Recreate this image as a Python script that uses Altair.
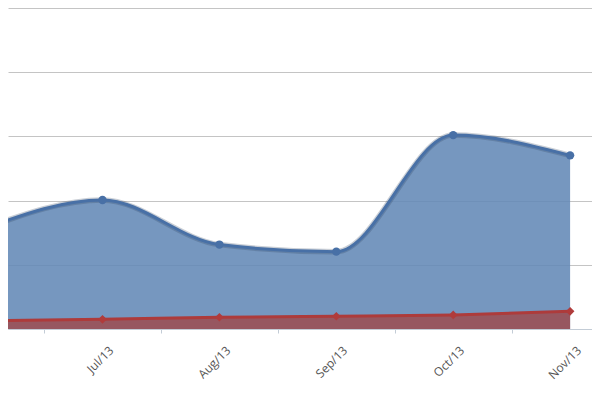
import altair as alt
import pandas as pd

months = ["Jun/13", "Jul/13", "Aug/13", "Sep/13", "Oct/13", "Nov/13"]
idx = [0, 1, 2, 3, 4, 5]
blue_vals = [31.5, 40.2, 26.3, 24.1, 60.4, 54.1]
red_vals = [2.6, 3.0, 3.66, 3.97, 4.4, 5.5]

df = pd.DataFrame({"idx": idx, "month": months, "blue": blue_vals, "red": red_vals})

label_expr = "[" + ",".join("'%s'" % m for m in months) + "][datum.value]"

x_enc = alt.X(
    "idx:Q",
    scale=alt.Scale(domain=[0.1916, 5.1873], nice=False, zero=False),
    axis=alt.Axis(
        values=idx[1:],
        labelExpr=label_expr,
        tickOffset=-58.45,
        labelOffset=67,
        grid=False,
        domainColor="#c3ccd6",
        tickColor="#c3ccd6",
        tickSize=4,
        labelAngle=-45,
        labelAlign="right",
        labelBaseline="middle",
        labelPadding=15,
        labelFont="Open Sans",
        labelFontSize=12,
        labelColor="#555555",
        title=None,
    ),
)

y_axis = alt.Axis(
    values=[0, 20, 40, 60, 80, 100],
    labels=False,
    ticks=False,
    domain=False,
    grid=True,
    gridColor="#c4c4c4",
    title=None,
)
y_scale = alt.Scale(domain=[0, 100], nice=False)

base = alt.Chart(df)

blue_area = base.mark_area(interpolate="monotone", color="#6389b6", opacity=0.88, clip=True).encode(
    x=x_enc, y=alt.Y("blue:Q", scale=y_scale, axis=y_axis)
)
red_area = base.mark_area(interpolate="monotone", color="#99535b", opacity=0.95, clip=True).encode(
    x=x_enc, y=alt.Y("red:Q", scale=y_scale, axis=y_axis)
)
blue_shadow = base.mark_line(interpolate="monotone", color="#2a3f5c", opacity=0.25, strokeWidth=5.5, clip=True).encode(
    x=x_enc, y=alt.Y("blue:Q", scale=y_scale, axis=y_axis)
)
blue_line = base.mark_line(interpolate="monotone", color="#4870a6", strokeWidth=3, clip=True).encode(
    x=x_enc, y=alt.Y("blue:Q", scale=y_scale, axis=y_axis)
)
red_line = base.mark_line(interpolate="monotone", color="#ad3b3b", strokeWidth=3, clip=True).encode(
    x=x_enc, y=alt.Y("red:Q", scale=y_scale, axis=y_axis)
)
blue_pts = base.mark_circle(size=70, color="#4870a6", opacity=1, clip=True).encode(
    x=x_enc, y=alt.Y("blue:Q", scale=y_scale, axis=y_axis)
)
red_pts = base.mark_point(shape="diamond", filled=True, size=75, color="#b03b3b", opacity=1, clip=True).encode(
    x=x_enc, y=alt.Y("red:Q", scale=y_scale, axis=y_axis)
)

chart = alt.layer(
    blue_area, red_area, blue_shadow, blue_line, red_line, blue_pts, red_pts
).properties(
    width=584,
    height=321,
    autosize=alt.AutoSizeParams(type="none"),
    padding={"left": 0, "top": 0, "right": 0, "bottom": 56},
).configure_view(stroke=None)

chart.save("out.html", embed_options={"renderer": "svg", "actions": False})
